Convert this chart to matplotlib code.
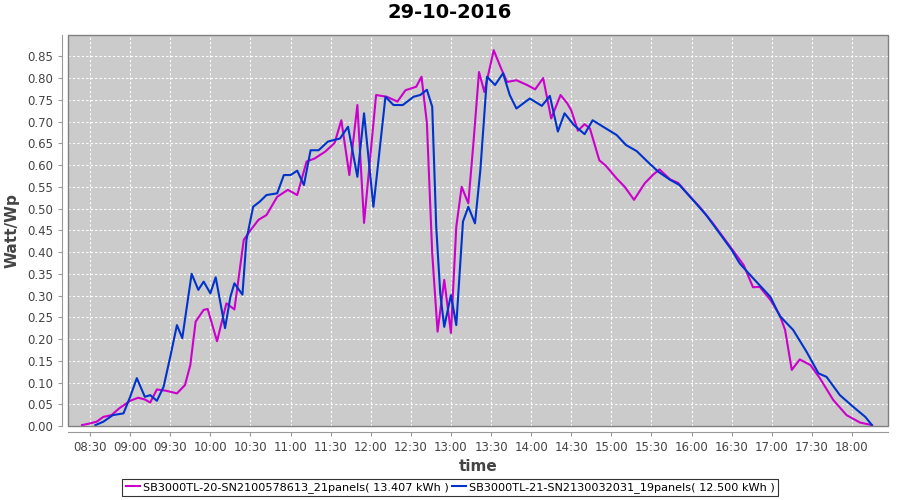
import numpy as np
import matplotlib
matplotlib.use('Agg')
import matplotlib.pyplot as plt
from matplotlib.patches import Rectangle
from matplotlib.ticker import FuncFormatter, MultipleLocator

# Data (time of day, Watt/Wp)
times_20 = ['08:24', '08:30', '08:35', '08:40', '08:46', '08:52', '09:00', '09:06', '09:11', '09:15',
            '09:20', '09:27', '09:35', '09:41', '09:45', '09:49', '09:55', '09:58', '10:05', '10:12',
            '10:18', '10:25', '10:30', '10:36', '10:42', '10:50', '10:58', '11:05', '11:12', '11:18',
            '11:26', '11:33', '11:38', '11:44', '11:50', '11:55', '12:04', '12:12', '12:20', '12:26',
            '12:34', '12:38', '12:42', '12:46', '12:50', '12:55', '13:00', '13:04', '13:08', '13:13',
            '13:17', '13:21', '13:25', '13:32', '13:37', '13:42', '13:49', '13:57', '14:03', '14:09',
            '14:15', '14:22', '14:27', '14:30', '14:35', '14:40', '14:44', '14:51', '14:56', '15:04',
            '15:10', '15:17', '15:25', '15:31', '15:36', '15:44', '15:50', '15:59', '16:06', '16:16',
            '16:29', '16:39', '16:46', '16:51', '16:59', '17:06', '17:10', '17:15', '17:21', '17:29',
            '17:36', '17:46', '17:56', '18:06', '18:15']
watt_20 = [0.002, 0.006, 0.010, 0.021, 0.025, 0.041, 0.058, 0.065, 0.061, 0.054,
           0.084, 0.081, 0.075, 0.094, 0.140, 0.240, 0.267, 0.269, 0.195, 0.282,
           0.268, 0.428, 0.450, 0.474, 0.485, 0.527, 0.543, 0.531, 0.608, 0.615,
           0.631, 0.651, 0.703, 0.577, 0.738, 0.467, 0.761, 0.757, 0.746, 0.772,
           0.780, 0.803, 0.697, 0.397, 0.217, 0.336, 0.214, 0.458, 0.550, 0.512,
           0.657, 0.814, 0.768, 0.864, 0.826, 0.791, 0.795, 0.784, 0.774, 0.800,
           0.707, 0.761, 0.742, 0.726, 0.679, 0.694, 0.684, 0.611, 0.598, 0.569,
           0.550, 0.520, 0.558, 0.577, 0.590, 0.567, 0.559, 0.527, 0.504, 0.466,
           0.412, 0.370, 0.319, 0.320, 0.290, 0.255, 0.221, 0.129, 0.153, 0.140,
           0.110, 0.060, 0.025, 0.008, 0.002]

times_21 = ['08:34', '08:40', '08:47', '08:55', '09:00', '09:05', '09:11', '09:15', '09:20', '09:25',
            '09:30', '09:35', '09:39', '09:46', '09:51', '09:55', '10:00', '10:04', '10:11', '10:15',
            '10:18', '10:24', '10:27', '10:32', '10:37', '10:42', '10:50', '10:55', '11:00', '11:05',
            '11:10', '11:15', '11:21', '11:28', '11:37', '11:43', '11:50', '11:55', '12:02', '12:11',
            '12:17', '12:24', '12:32', '12:37', '12:42', '12:46', '12:49', '12:52', '12:55', '13:00',
            '13:04', '13:09', '13:13', '13:18', '13:22', '13:27', '13:33', '13:39', '13:44', '13:49',
            '13:59', '14:08', '14:14', '14:20', '14:25', '14:32', '14:40', '14:46', '14:56', '15:04',
            '15:11', '15:19', '15:26', '15:35', '15:44', '15:51', '16:01', '16:11', '16:21', '16:30',
            '16:36', '16:46', '16:59', '17:06', '17:16', '17:26', '17:35', '17:41', '17:51', '18:01',
            '18:10', '18:15']
watt_21 = [0.002, 0.010, 0.025, 0.029, 0.067, 0.110, 0.067, 0.071, 0.058, 0.090,
           0.159, 0.232, 0.202, 0.350, 0.313, 0.332, 0.305, 0.342, 0.225, 0.297,
           0.328, 0.302, 0.428, 0.504, 0.516, 0.531, 0.535, 0.577, 0.577, 0.587,
           0.554, 0.634, 0.634, 0.654, 0.661, 0.688, 0.573, 0.719, 0.504, 0.757,
           0.738, 0.738, 0.757, 0.761, 0.773, 0.734, 0.458, 0.305, 0.228, 0.301,
           0.232, 0.470, 0.504, 0.466, 0.588, 0.803, 0.784, 0.811, 0.761, 0.730,
           0.753, 0.736, 0.759, 0.677, 0.719, 0.692, 0.671, 0.703, 0.684, 0.669,
           0.646, 0.632, 0.611, 0.585, 0.566, 0.554, 0.520, 0.485, 0.443, 0.405,
           0.374, 0.340, 0.297, 0.253, 0.221, 0.171, 0.121, 0.113, 0.071, 0.044,
           0.021, 0.002]

label_20 = 'SB3000TL-20-SN2100578613_21panels( 13.407 kWh )'
label_21 = 'SB3000TL-21-SN2130032031_19panels( 12.500 kWh )'
title = '29-10-2016'


def to_minutes(hhmm):
    h, m = hhmm.split(':')
    return int(h) * 60 + int(m)


x20 = [to_minutes(t) for t in times_20]
x21 = [to_minutes(t) for t in times_21]

fig = plt.figure(figsize=(9, 5), dpi=100)
fig.patch.set_facecolor('white')
ax = fig.add_axes([68 / 900, 1 - 426 / 500, 820 / 900, 391 / 500])
ax.set_facecolor('#cbcbcb')

l1, = ax.plot(x20, watt_20, color='#cc00cc', lw=1.5, solid_joinstyle='round', label=label_20)
l2, = ax.plot(x21, watt_21, color='#0033cc', lw=1.5, solid_joinstyle='round', label=label_21)

ax.set_xlim(493.5, 1107)
ax.set_ylim(0, 0.899)
ax.xaxis.set_major_locator(MultipleLocator(30))
ax.xaxis.set_major_formatter(FuncFormatter(lambda v, p: '%02d:%02d' % (int(v) // 60, int(v) % 60)))
ax.yaxis.set_major_locator(MultipleLocator(0.05))
ax.yaxis.set_major_formatter(FuncFormatter(lambda v, p: '%.2f' % v))

ax.grid(True, color='white', linestyle=(0, (2, 2)), linewidth=0.8)
ax.set_axisbelow(True)

for s in ['top', 'right']:
    ax.spines[s].set_visible(False)
for s in ['left', 'bottom']:
    ax.spines[s].set_position(('outward', 4))
    ax.spines[s].set_color('#999999')
ax.add_patch(Rectangle((0, 0), 1, 1, transform=ax.transAxes, fill=False,
                       edgecolor='#808080', lw=1.0, clip_on=False, zorder=5))

ax.tick_params(axis='both', colors='#999999', labelcolor='#444444', labelsize=8.5,
               length=3, width=0.8, direction='out')

ax.set_xlabel('time', fontsize=11, fontweight='bold', color='#444444', labelpad=4)
ax.set_ylabel('Watt/Wp', fontsize=11, fontweight='bold', color='#444444', labelpad=6)
fig.suptitle(title, fontsize=14, fontweight='bold', y=0.995, va='top')

leg = fig.legend(handles=[l1, l2], loc='lower center', bbox_to_anchor=(0.5, 0.003), ncol=2,
                 fontsize=8.1, frameon=True, fancybox=False, edgecolor='black',
                 handlelength=1.3, handletextpad=0.2, columnspacing=0.3,
                 borderpad=0.3, borderaxespad=0.2)
leg.get_frame().set_linewidth(0.8)

fig.savefig('out.png', dpi=100)
